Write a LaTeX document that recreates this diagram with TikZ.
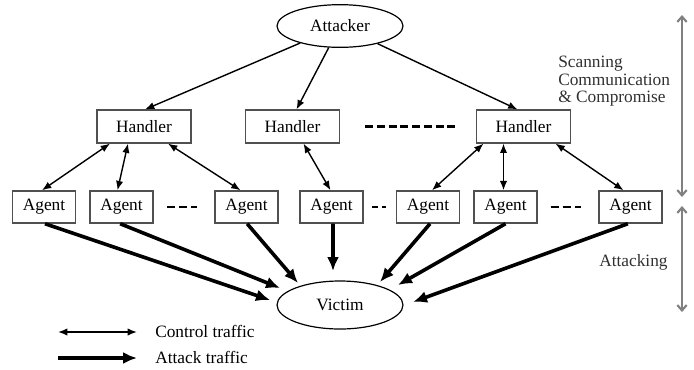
\documentclass[tikz,border=0pt]{standalone}
\usepackage{fontspec}
\setmainfont{Liberation Serif}
\usetikzlibrary{arrows.meta,shapes.geometric}
\definecolor{boxgray}{HTML}{505050}
\definecolor{phasegray}{HTML}{808080}
\definecolor{sidetext}{HTML}{303030}
\begin{document}
\begin{tikzpicture}[x=0.75pt,y=-0.75pt,
  every node/.style={font=\fontsize{13}{15}\selectfont, text=black},
  boxnode/.style={draw=boxgray, line width=1.1pt, minimum height=24.5pt, inner sep=0pt},
  handlerbox/.style={boxnode, minimum width=70.5pt},
  agentbox/.style={boxnode, minimum width=47.25pt, minimum height=24pt},
  oval/.style={ellipse, draw=black, line width=0.9pt, inner sep=0pt},
  ctrl/.style={line width=1.05pt, {Latex[length=7pt,width=5.5pt]}-{Latex[length=7pt,width=5.5pt]}},
  cmd/.style={line width=1.05pt, -{Latex[length=7pt,width=5.5pt]}},
  attack/.style={line width=2.7pt, -{Latex[length=10.5pt,width=9pt]}},
  phase/.style={draw=phasegray, line width=1.6pt, {Straight Barb[length=4pt,width=7pt]}-{Straight Barb[length=4pt,width=7pt]}},
  sidelabel/.style={anchor=base west, inner sep=0pt, text=sidetext},
  legendlabel/.style={anchor=base west, inner sep=0pt}
]
\useasboundingbox (0,0) rectangle (694,369);

% nodes
\node[oval, minimum width=94.5pt, minimum height=32pt] (attacker) at (340,26) {Attacker};

\node[handlerbox] (h1) at (144,126.5) {Handler};
\node[handlerbox] (h2) at (292.5,126.5) {Handler};
\node[handlerbox] (h3) at (523.5,126.5) {Handler};

\node[agentbox] (a1) at (44,207) {Agent};
\node[agentbox] (a2) at (121.5,207) {Agent};
\node[agentbox] (a3) at (246.5,207) {Agent};
\node[agentbox] (a4) at (331.5,207) {Agent};
\node[agentbox] (a5) at (428,207) {Agent};
\node[agentbox] (a6) at (505.5,207) {Agent};
\node[agentbox] (a7) at (630.5,207) {Agent};

\node[oval, minimum width=94.5pt, minimum height=36pt] (victim) at (340,305) {Victim};

% attacker -> handlers
\draw[cmd] (attacker) -- ([xshift=0.75pt]h1.north);
\draw[cmd] (attacker) -- ([xshift=3pt]h2.north);
\draw[cmd] (attacker) -- ([xshift=-4.5pt]h3.north);

% handler <-> agents
\draw[ctrl] ([xshift=-25.5pt]h1.south) -- ([xshift=-1.5pt]a1.north);
\draw[ctrl] ([xshift=-12pt]h1.south) -- ([xshift=-3pt]a2.north);
\draw[ctrl] ([xshift=18pt]h1.south) -- ([xshift=-4.5pt]a3.north);
\draw[ctrl] ([xshift=8.25pt]h2.south) -- ([xshift=-0.75pt]a4.north);
\draw[ctrl] ([xshift=-30pt]h3.south) -- ([xshift=3pt]a5.north);
\draw[ctrl] ([xshift=-15pt]h3.south) -- ([xshift=-1.5pt]a6.north);
\draw[ctrl] ([xshift=24pt]h3.south) -- ([xshift=-5.25pt]a7.north);

% agents -> victim
\draw[attack] ([xshift=0.75pt]a1.south) -- ([shift={(-70,-5)}]victim.center);
\draw[attack] ([xshift=-1pt]a2.south) -- ([shift={(-60,-17)}]victim.center);
\draw[attack] ([xshift=0.5pt]a3.south) -- ([shift={(-42,-22)}]victim.center);
\draw[attack] ([xshift=1.1pt]a4.south) -- ([shift={(-7,-34)}]victim.center);
\draw[attack] ([xshift=1.5pt]a5.south) -- ([shift={(40,-23)}]victim.center);
\draw[attack] (a6.south) -- ([shift={(58,-20)}]victim.center);
\draw[attack] ([xshift=-2pt]a7.south) -- ([shift={(73,-3)}]victim.center);

% ellipsis dashes
\draw[line width=1.6pt, dash pattern=on 6pt off 2.79pt] ([xshift=18.75pt]h2.east) -- ([xshift=-15.75pt]h3.west);
\draw[line width=1.9pt, dash pattern=on 6pt off 3pt] ([xshift=10pt]a2.east) -- ([xshift=-12.75pt]a3.west);
\draw[line width=1.9pt, dash pattern=on 4pt off 3pt] ([xshift=6.5pt]a4.east) -- ([xshift=-7pt]a5.west);
\draw[line width=1.9pt, dash pattern=on 6pt off 3pt] ([xshift=9.75pt]a6.east) -- ([xshift=-12.75pt]a7.west);

% phase labels and arrows
\node[sidelabel] (scan1) at (558,67) {Scanning};
\node[sidelabel] (scan2) at (558,85) {Communication};
\node[sidelabel] (scan3) at (558,102) {\& Compromise};
\node[sidelabel] (attacking) at (599,266) {Attacking};
\coordinate (p1top) at (682,15);
\coordinate (p1bot) at (682,197);
\coordinate (p2top) at (682,206);
\coordinate (p2bot) at (682,312);
\draw[phase] (p1top) -- (p1bot);
\draw[phase] (p2top) -- (p2bot);

% legend
\coordinate (lc1) at (58,332);
\coordinate (lc2) at (137,332);
\coordinate (la1) at (58,358);
\coordinate (la2) at (137,358);
\draw[ctrl] (lc1) -- (lc2);
\draw[attack] (la1) -- (la2);
\node[legendlabel] (lctrl) at (155,337) {Control traffic};
\node[legendlabel] (lattack) at (155,363) {Attack traffic};
\end{tikzpicture}
\end{document}
